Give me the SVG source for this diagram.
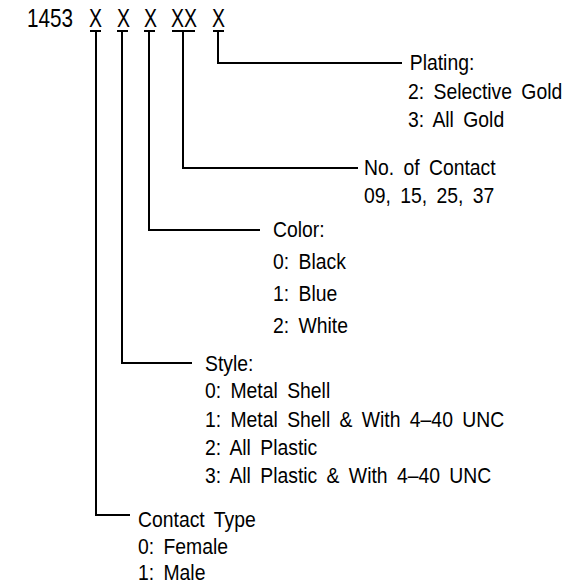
<svg xmlns="http://www.w3.org/2000/svg" width="584" height="585" viewBox="0 0 584 585">
<style>
text{font-family:"Liberation Sans",Arial,sans-serif;fill:#000}
.t{font-size:22px;word-spacing:4.5px}
.h{font-size:25px}
.c{fill:none;stroke:#000;stroke-width:2}
</style>
<rect width="584" height="585" fill="#fff"/>
<g id="code">
<text class="h" x="27" y="27" textLength="46" lengthAdjust="spacingAndGlyphs">1453</text>
<text class="h" x="89" y="27" textLength="13" lengthAdjust="spacingAndGlyphs">X</text>
<text class="h" x="117" y="27" textLength="13" lengthAdjust="spacingAndGlyphs">X</text>
<text class="h" x="144" y="27" textLength="13" lengthAdjust="spacingAndGlyphs">X</text>
<text class="h" x="171" y="27" textLength="26" lengthAdjust="spacingAndGlyphs">XX</text>
<text class="h" x="212" y="27" textLength="13" lengthAdjust="spacingAndGlyphs">X</text>
</g>
<g id="connectors" class="c">
<path d="M90 31H101M96 31V515H130"/>
<path d="M117 31H128M122 31V363H192"/>
<path d="M144 31H155M149 31V230H260"/>
<path d="M172 31H195M183 31V168H358"/>
<path d="M213 31H224M218 31V63H402"/>
</g>
<g id="plating" transform="matrix(0.88 0 0 1 408 0)">
<text class="t" x="2" y="70">Plating:</text>
<text class="t" x="0" y="99">2: Selective Gold</text>
<text class="t" x="0" y="127">3: All Gold</text>
</g>
<g id="contacts" transform="matrix(0.88 0 0 1 364 0)">
<text class="t" x="0" y="175">No. of Contact</text>
<text class="t" x="0" y="203">09, 15, 25, 37</text>
</g>
<g id="color" transform="matrix(0.88 0 0 1 273 0)">
<text class="t" x="0" y="237">Color:</text>
<text class="t" x="0" y="269">0: Black</text>
<text class="t" x="0" y="301">1: Blue</text>
<text class="t" x="0" y="333">2: White</text>
</g>
<g id="style" transform="matrix(0.88 0 0 1 205 0)">
<text class="t" x="0" y="371">Style:</text>
<text class="t" x="0" y="398">0: Metal Shell</text>
<text class="t" x="0" y="427">1: Metal Shell &amp; With 4–40 UNC</text>
<text class="t" x="0" y="455">2: All Plastic</text>
<text class="t" x="0" y="483">3: All Plastic &amp; With 4–40 UNC</text>
</g>
<g id="contact-type" transform="matrix(0.88 0 0 1 138 0)">
<text class="t" x="0" y="527">Contact Type</text>
<text class="t" x="0" y="554">0: Female</text>
<text class="t" x="0" y="580">1: Male</text>
</g>
</svg>
